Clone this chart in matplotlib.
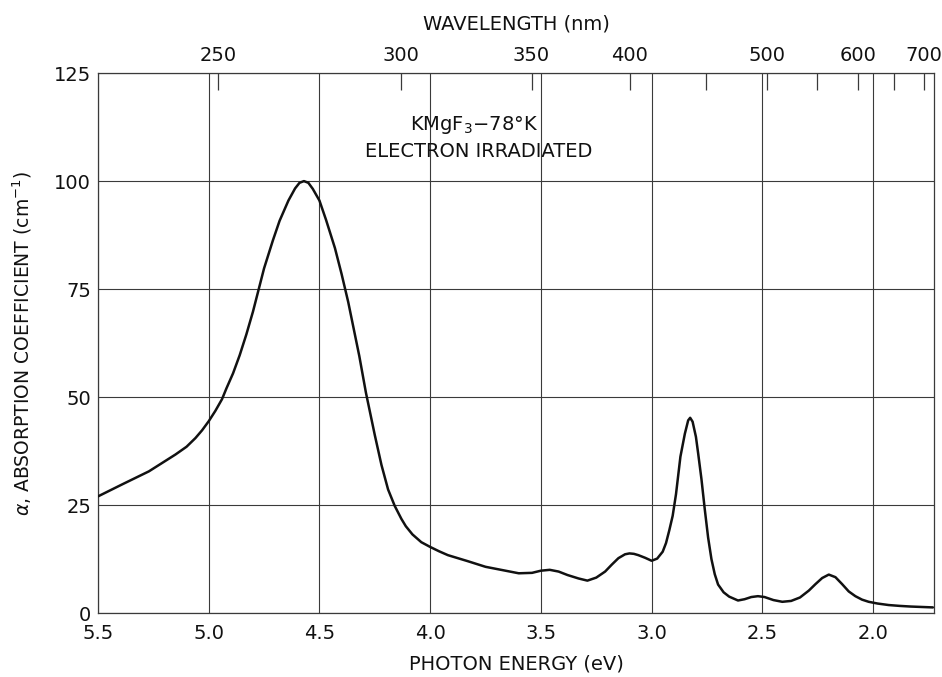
import numpy as np
import matplotlib
matplotlib.use("Agg")
import matplotlib.pyplot as plt

# Absorption spectrum of electron-irradiated KMgF3 at 78 K
energy_ev = [5.50, 5.39, 5.27, 5.15, 5.10, 5.06, 5.03, 5.00, 4.97, 4.94,
             4.92, 4.89, 4.86, 4.83, 4.80, 4.78, 4.75, 4.71, 4.68, 4.64,
             4.61, 4.59, 4.57, 4.55, 4.53, 4.50, 4.47, 4.43, 4.40, 4.37,
             4.35, 4.32, 4.29, 4.25, 4.22, 4.19, 4.16, 4.13, 4.11, 4.08,
             4.04, 4.00, 3.96, 3.92, 3.83, 3.75, 3.67, 3.60, 3.54, 3.50,
             3.46, 3.42, 3.38, 3.33, 3.29, 3.25, 3.21, 3.18, 3.15, 3.12,
             3.10, 3.08, 3.06, 3.03, 3.00, 2.975, 2.95, 2.935, 2.92, 2.905,
             2.89, 2.87, 2.85, 2.835, 2.826, 2.815, 2.80, 2.79, 2.775, 2.76,
             2.745, 2.73, 2.715, 2.70, 2.675, 2.65, 2.61, 2.58, 2.55, 2.52,
             2.49, 2.45, 2.41, 2.37, 2.33, 2.29, 2.26, 2.23, 2.20, 2.17,
             2.14, 2.11, 2.08, 2.05, 2.02, 1.98, 1.93, 1.88, 1.83, 1.78,
             1.73]
alpha_cm = [27.0, 29.8, 32.8, 36.7, 38.5, 40.5, 42.3, 44.4, 46.8, 49.5,
            52.0, 55.5, 59.7, 64.5, 69.8, 73.8, 79.8, 86.3, 90.8, 95.5,
            98.3, 99.6, 100.0, 99.6, 98.2, 95.5, 91.0, 84.5, 78.5, 72.0,
            67.0, 59.5, 51.0, 41.2, 34.3, 28.6, 24.8, 21.8, 20.1, 18.2,
            16.4, 15.3, 14.3, 13.4, 12.0, 10.7, 9.9, 9.2, 9.3, 9.8,
            10.0, 9.6, 8.8, 8.0, 7.5, 8.2, 9.6, 11.2, 12.7, 13.6,
            13.8, 13.7, 13.4, 12.8, 12.1, 12.6, 14.2, 16.2, 19.2, 22.5,
            27.5, 36.2, 41.5, 44.6, 45.2, 44.3, 40.8, 37.0, 31.0, 24.0,
            17.5, 12.5, 9.0, 6.6, 4.8, 3.8, 2.9, 3.2, 3.7, 3.9,
            3.7, 3.0, 2.6, 2.8, 3.6, 5.2, 6.7, 8.1, 8.9, 8.3,
            6.7, 5.0, 3.9, 3.1, 2.6, 2.2, 1.85, 1.65, 1.5, 1.4,
            1.3]

energy_ticks = [5.5, 5.0, 4.5, 4.0, 3.5, 3.0, 2.5, 2.0]
alpha_ticks = [0, 25, 50, 75, 100, 125]
wavelength_major = [250, 300, 350, 400, 500, 600, 700]
wavelength_minor = [450, 550, 650]

HC = 1239.84  # eV*nm

plt.rcParams["font.family"] = ["DejaVu Sans"]
ink = "#111111"
grid_c = "#3a3a3a"

fig = plt.figure(figsize=(9.42, 6.77), dpi=100)
ax = fig.add_axes([0.104, 0.0945, 0.8875, 0.7975])

ax.plot(energy_ev, alpha_cm, color=ink, lw=1.8, solid_capstyle="round",
        solid_joinstyle="round", zorder=3)

ax.set_xlim(5.5, 1.725)
ax.set_ylim(0, 125)
ax.set_xticks(energy_ticks)
ax.set_xticklabels([f"{v:.1f}" for v in energy_ticks])
ax.set_yticks(alpha_ticks)
ax.set_yticklabels([str(v) for v in alpha_ticks])
ax.grid(True, color=grid_c, lw=0.8)
ax.set_axisbelow(True)
ax.tick_params(axis="both", length=0, labelsize=14, colors=ink)
ax.tick_params(axis="x", pad=8)
ax.tick_params(axis="y", pad=5)
for s in ax.spines.values():
    s.set_color(grid_c)
    s.set_linewidth(0.9)

ax.set_xlabel("PHOTON ENERGY (eV)", fontsize=14, color=ink, labelpad=8)
ax.set_ylabel(r"$\alpha$, ABSORPTION COEFFICIENT (cm$^{-1}$)", fontsize=13.5,
              color=ink, labelpad=14)

# wavelength scale along the top
top = ax.secondary_xaxis("top", functions=(lambda e: HC / np.asarray(e, float),
                                           lambda w: HC / np.asarray(w, float)))
top.set_xticks(wavelength_major)
top.set_xticklabels([str(w) for w in wavelength_major])
top.set_xticks(wavelength_minor, minor=True)
top.tick_params(which="both", direction="in", length=12, width=0.9,
                colors=grid_c, labelcolor=ink, labelsize=14, pad=6)
top.spines["top"].set_visible(False)
top.set_xlabel("WAVELENGTH (nm)", fontsize=14, color=ink, labelpad=12)

ax.text(0.45, 0.904, r"KMgF$_3$$-$78°K", transform=ax.transAxes,
        ha="center", va="center", fontsize=14, color=ink)
ax.text(0.455, 0.854, "ELECTRON IRRADIATED", transform=ax.transAxes,
        ha="center", va="center", fontsize=14, color=ink)

fig.savefig("out.png", dpi=100)
